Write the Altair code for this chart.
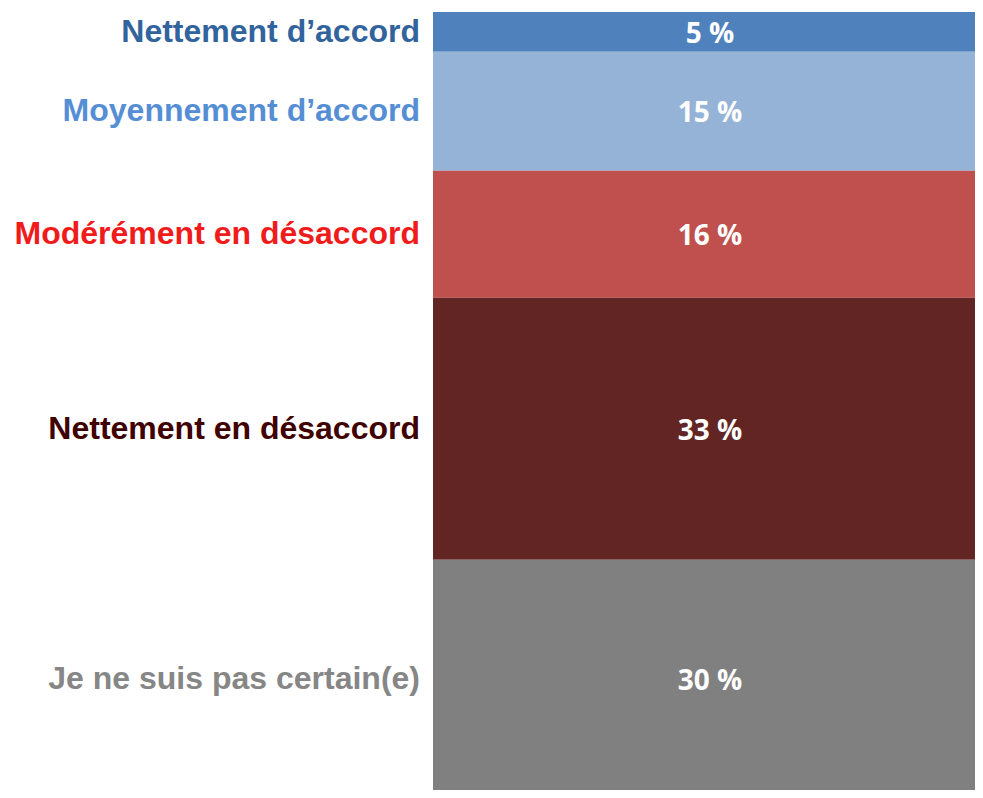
import altair as alt
import pandas as pd

categories = [
    "Nettement d’accord",
    "Moyennement d’accord",
    "Modérément en désaccord",
    "Nettement en désaccord",
    "Je ne suis pas certain(e)",
]
values = [5, 15, 16, 33, 30]
bar_colors = ["#4F81BD", "#95B3D7", "#C0504D", "#632523", "#808080"]
label_colors = ["#31639C", "#558ED5", "#F01B1B", "#400000", "#868686"]

df = pd.DataFrame({
    "cat": categories,
    "value": values,
    "ordre": list(range(len(categories))),
    "groupe": ["réponses"] * len(categories),
})

# the bottom of the last bar runs off the picture in the reference
yscale = alt.Scale(domain=[0, 98], reverse=True, nice=False, zero=False)

base = (
    alt.Chart(df)
    .transform_window(cum="sum(value)", sort=[alt.SortField("ordre")], frame=[None, 0])
    .transform_calculate(
        start="datum.cum - datum.value",
        mid="datum.cum - datum.value / 2",
        lab="datum.value + ' %'",
    )
)

xenc = alt.X("groupe:N", axis=None, scale=alt.Scale(paddingInner=0, paddingOuter=0))

bars = base.mark_bar(stroke=None, clip=True).encode(
    x=xenc,
    y=alt.Y("start:Q", scale=yscale, axis=None),
    y2="cum:Q",
    color=alt.Color("cat:N", scale=alt.Scale(domain=categories, range=bar_colors), legend=None),
)

vals = base.mark_text(
    color="white", font="Open Sans", fontWeight="bold", fontSize=28,
    baseline="middle", align="center", dx=6, dy=3,
).encode(
    x=xenc,
    y=alt.Y("mid:Q", scale=yscale, axis=None),
    text="lab:N",
)

right = alt.layer(bars, vals).properties(width=542, height=778)

left = base.mark_text(
    font="Liberation Sans", fontWeight="bold", fontSize=32, align="right", baseline="middle"
).encode(
    x=alt.value(412),
    y=alt.Y("mid:Q", scale=yscale, axis=None),
    text="cat:N",
    color=alt.Color("cat:N", scale=alt.Scale(domain=categories, range=label_colors), legend=None),
).properties(width=425, height=778)

chart = (
    alt.hconcat(left, right, spacing=0)
    .resolve_scale(color="independent")
    .properties(padding={"left": 0, "top": 4, "right": 0, "bottom": 0}, background="white")
    .configure_view(stroke=None)
)

chart.save("out.html", embed_options={"renderer": "svg", "actions": False})
